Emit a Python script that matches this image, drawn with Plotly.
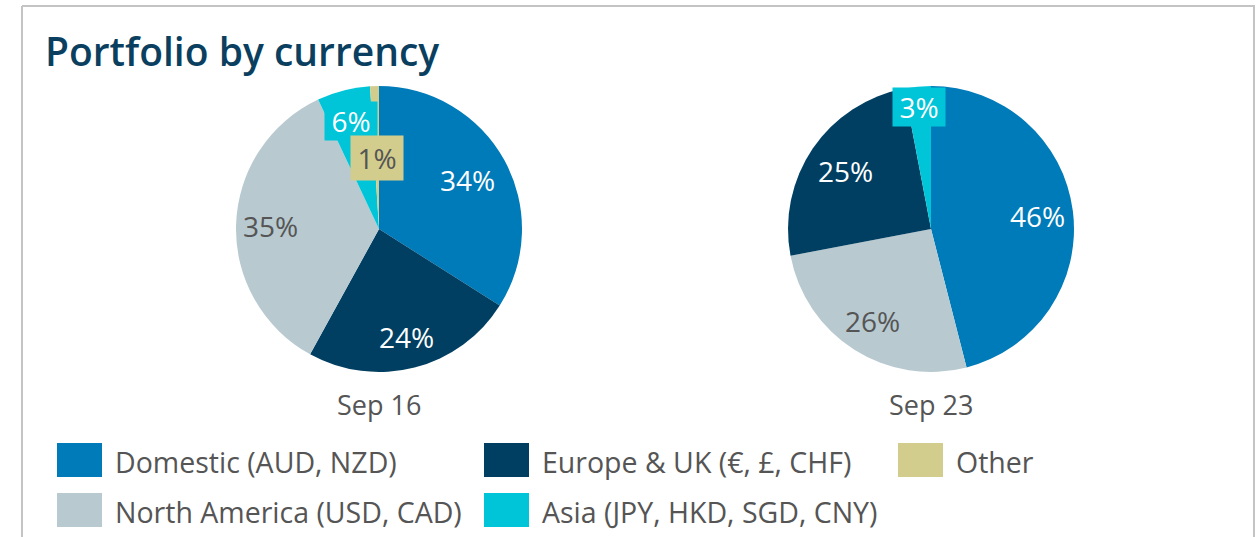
import math
import plotly.graph_objects as go

W, H = 1257, 537

# ---- data ----
categories = ["Domestic (AUD, NZD)", "Europe & UK (€, £, CHF)", "Other",
              "North America (USD, CAD)", "Asia (JPY, HKD, SGD, CNY)"]
colors = {"Domestic (AUD, NZD)": "#007bb9",
          "Europe & UK (€, £, CHF)": "#003f62",
          "Other": "#d3cd8d",
          "North America (USD, CAD)": "#b8c9d0",
          "Asia (JPY, HKD, SGD, CNY)": "#00c5d8"}
text_colors = {"Domestic (AUD, NZD)": "white",
               "Europe & UK (€, £, CHF)": "white",
               "Other": "#555555",
               "North America (USD, CAD)": "#555555",
               "Asia (JPY, HKD, SGD, CNY)": "white"}

sep16_labels = ["Domestic (AUD, NZD)", "Europe & UK (€, £, CHF)",
                "North America (USD, CAD)", "Asia (JPY, HKD, SGD, CNY)", "Other"]
sep16_values = [34, 24, 35, 6, 1]
sep23_labels = ["Domestic (AUD, NZD)", "North America (USD, CAD)",
                "Europe & UK (€, £, CHF)", "Asia (JPY, HKD, SGD, CNY)"]
sep23_values = [46, 26, 25, 3]
pie_titles = ["Sep 16", "Sep 23"]

# ---- style / layout ----
FONT = "Open Sans"
GRAY = "#555555"
pies = [
    dict(labels=sep16_labels, values=sep16_values, cx=379, cy=229, r=143,
         label_r=[0.71, 0.78, 0.76, 0.78, 0.50], boxed=[False, False, False, True, True],
         box_h=[0, 0, 0, 36, 42]),
    dict(labels=sep23_labels, values=sep23_values, cx=931, cy=229, r=143,
         label_r=[0.75, 0.76, 0.72, 0.86], boxed=[False, False, False, True],
         box_h=[0, 0, 0, 36]),
]

def px(x):
    return x / W

def py(y):
    return 1 - y / H

fig = go.Figure()
annotations = []
for i, p in enumerate(pies):
    cx, cy, r = p["cx"], p["cy"], p["r"]
    fig.add_trace(go.Pie(
        labels=p["labels"], values=p["values"], sort=False, direction="clockwise",
        rotation=0, textinfo="none", showlegend=False, hoverinfo="label+percent",
        marker=dict(colors=[colors[l] for l in p["labels"]], line=dict(width=0)),
        domain=dict(x=[px(cx - r), px(cx + r)], y=[py(cy + r), py(cy - r)]),
    ))
    total = sum(p["values"])
    cum = 0
    for lab, v, lr, boxed, bh in zip(p["labels"], p["values"], p["label_r"],
                                     p["boxed"], p["box_h"]):
        mid = (cum + v / 2) / total * 2 * math.pi
        cum += v
        x = cx + lr * r * math.sin(mid)
        y = cy - lr * r * math.cos(mid)
        ann = dict(x=px(x), y=py(y), xref="paper", yref="paper", showarrow=False,
                   text=f"{v}%", xanchor="center", yanchor="middle",
                   font=dict(family=FONT, size=28, color=text_colors[lab]))
        if boxed:
            ann.update(bgcolor=colors[lab], width=50, height=bh)
        annotations.append(ann)
    annotations.append(dict(x=px(cx), y=py(404), xref="paper", yref="paper",
                            showarrow=False, text=pie_titles[i], xanchor="center",
                            yanchor="middle", font=dict(family=FONT, size=27, color=GRAY)))

# title
annotations.append(dict(x=px(43), y=py(51), xref="paper", yref="paper", showarrow=False,
                        text="Portfolio by currency", xanchor="left", yanchor="middle",
                        font=dict(family=FONT, size=39, color="#0b3f5f", weight=600)))

# custom legend
shapes = []
legend_pos = {
    "Domestic (AUD, NZD)": (57, 460),
    "Europe & UK (€, £, CHF)": (484, 460),
    "Other": (898, 460),
    "North America (USD, CAD)": (57, 510),
    "Asia (JPY, HKD, SGD, CNY)": (484, 510),
}
for cat in categories:
    lx, ly = legend_pos[cat]
    shapes.append(dict(type="rect", xref="paper", yref="paper",
                       x0=px(lx), x1=px(lx + 45), y0=py(ly + 17), y1=py(ly - 17),
                       fillcolor=colors[cat], line=dict(width=0)))
    annotations.append(dict(x=px(lx + 56), y=py(ly + 2), xref="paper", yref="paper",
                            showarrow=False, text=cat, xanchor="left", yanchor="middle",
                            font=dict(family=FONT, size=28.5, color=GRAY)))

# frame border
for (x0, y0, x1, y1) in [(22, 6, 1255, 6), (22, 6, 22, 537), (1254, 6, 1254, 537)]:
    shapes.append(dict(type="line", xref="paper", yref="paper",
                       x0=px(x0), y0=py(y0), x1=px(x1), y1=py(y1),
                       line=dict(color="#c4c4c4", width=2)))

fig.update_layout(width=W, height=H, margin=dict(l=0, r=0, t=0, b=0),
                  paper_bgcolor="white", plot_bgcolor="white",
                  annotations=annotations, shapes=shapes, showlegend=False)
fig.write_html("out.html", config={"displayModeBar": False},
               post_script="document.body.style.margin='0';document.body.style.overflow='hidden';")
